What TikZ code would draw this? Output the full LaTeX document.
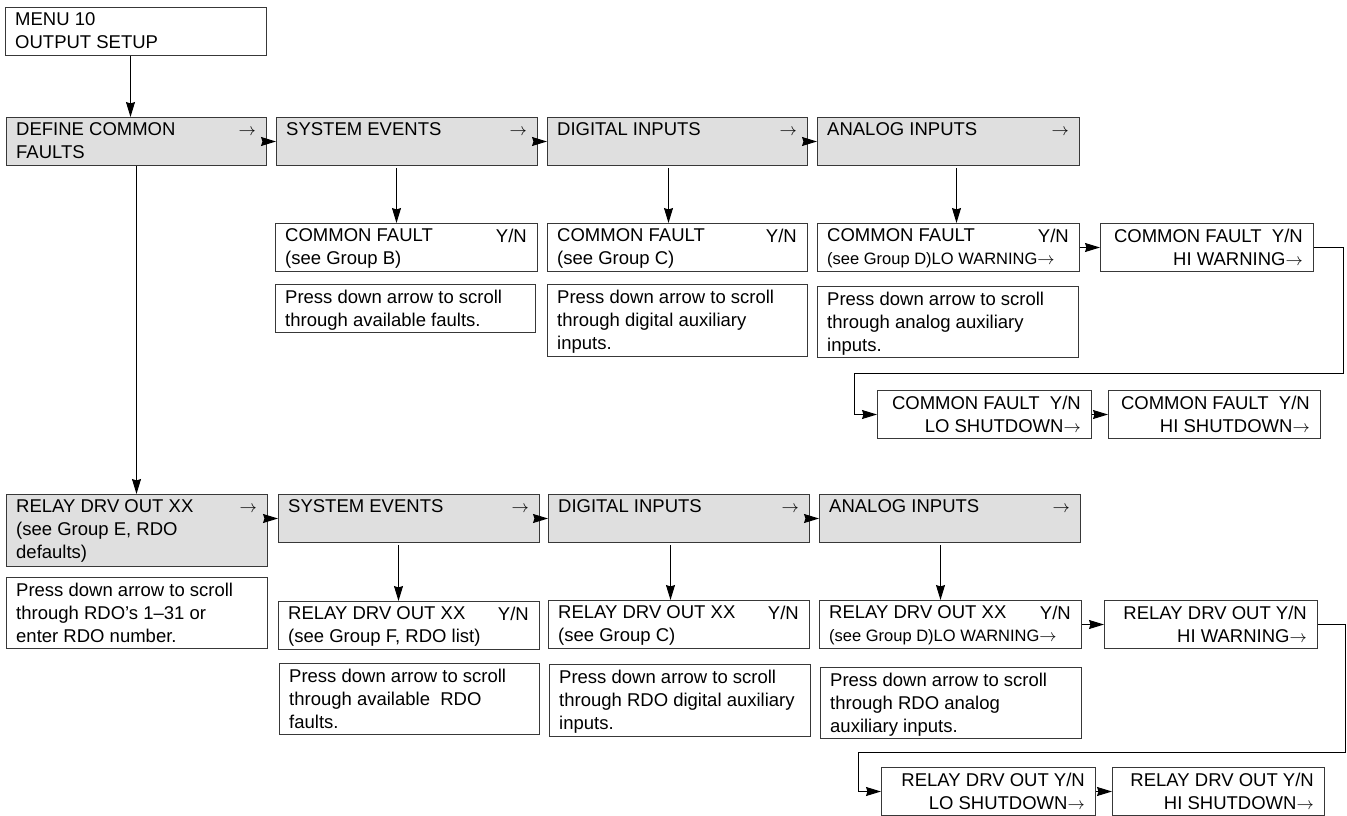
\documentclass[tikz,border=0pt]{standalone}
\usepackage{fontspec}
\setmainfont{Liberation Sans}
\usetikzlibrary{arrows.meta,positioning,calc}
\definecolor{panelgray}{HTML}{DFDFDF}
\definecolor{edgegray}{HTML}{383838}
\newcommand{\ra}{\vphantom{A}$\rightarrow$}
\newcommand{\smallline}{\fontsize{16.5}{23}\selectfont}

\begin{document}
\begin{tikzpicture}[x=1pt,y=-1pt,font=\fontsize{18.5}{23}\selectfont,
  screen/.style={draw=edgegray,line width=1pt,anchor=north west,inner sep=0pt,minimum height=48pt},
  shaded/.style={screen,fill=panelgray},
  txt/.style={anchor=north west,inner xsep=10pt,inner ysep=5.5pt,align=left},
  rtxt/.style={anchor=north east,inner xsep=11pt,inner ysep=5.5pt,align=right},
  conn/.style={line width=1pt,-{Stealth[length=15pt,width=9pt,inset=1.5pt]}}]
  \useasboundingbox (0,0) rectangle (1347,816);

  % common faults
  \node[screen,minimum width=261pt,label={[txt]north west:{MENU 10\\OUTPUT SETUP}}] (menu) at (5,7) {};
  \node[shaded,minimum width=260pt,label={[txt]north west:{DEFINE COMMON\\FAULTS}},label={[rtxt]north east:\ra}] (define) at (6,117) {};
  \node[shaded,minimum width=261pt,label={[txt]north west:SYSTEM EVENTS},label={[rtxt]north east:\ra}] (sysev) at (276,117) {};
  \node[shaded,minimum width=260pt,label={[txt]north west:DIGITAL INPUTS},label={[rtxt]north east:\ra}] (digin) at (547,117) {};
  \node[shaded,minimum width=262pt,label={[txt]north west:ANALOG INPUTS},label={[rtxt]north east:\ra}] (anain) at (817,117) {};

  \node[screen,minimum width=262pt,label={[txt]north west:{COMMON FAULT\\(see Group B)}},label={[rtxt]north east:Y/N}] (cfb) at (275,223) {};
  \node[screen,minimum width=260pt,label={[txt]north west:{Press down arrow to scroll\\through available faults.}}] (pressb) at (275,284) {};
  \node[screen,minimum width=260pt,label={[txt]north west:{COMMON FAULT\\(see Group C)}},label={[rtxt]north east:Y/N}] (cfc) at (547,223) {};
  \node[screen,minimum width=260pt,minimum height=72pt,label={[txt]north west:{Press down arrow to scroll\\through digital auxiliary\\inputs.}}] (pressc) at (547,284) {};
  \node[screen,minimum width=262pt,label={[txt]north west:{COMMON FAULT\\{\smallline (see Group D)LO WARNING\ra}}},label={[rtxt]north east:Y/N}] (cfd) at (817,223) {};
  \node[screen,minimum width=261pt,minimum height=71pt,label={[txt]north west:{Press down arrow to scroll\\through analog auxiliary\\inputs.}}] (pressd) at (817,286) {};
  \node[screen,minimum width=213pt,label={[rtxt]north east:{COMMON FAULT\ \ Y/N\\HI WARNING\ra}}] (cfhw) at (1100,223) {};
  \node[screen,minimum width=214pt,label={[rtxt]north east:{COMMON FAULT\ \ Y/N\\LO SHUTDOWN\ra}}] (cfls) at (877,390) {};
  \node[screen,minimum width=212pt,label={[rtxt]north east:{COMMON FAULT\ \ Y/N\\HI SHUTDOWN\ra}}] (cfhs) at (1108,390) {};

  % relay driver outputs
  \node[shaded,minimum width=261pt,minimum height=72pt,label={[txt]north west:{RELAY DRV OUT XX\\(see Group E, RDO\\defaults)}},label={[rtxt]north east:\ra}] (relay) at (6,494) {};
  \node[screen,minimum width=261pt,minimum height=71pt,label={[txt]north west:{Press down arrow to scroll\\through RDO’s 1--31 or\\enter RDO number.}}] (rpress) at (6,577) {};
  \node[shaded,minimum width=261pt,label={[txt]north west:SYSTEM EVENTS},label={[rtxt]north east:\ra}] (rsysev) at (278,494) {};
  \node[shaded,minimum width=261pt,label={[txt]north west:DIGITAL INPUTS},label={[rtxt]north east:\ra}] (rdigin) at (548,494) {};
  \node[shaded,minimum width=261pt,label={[txt]north west:ANALOG INPUTS},label={[rtxt]north east:\ra}] (ranain) at (819,494) {};

  \node[screen,minimum width=261pt,label={[txt]north west:{RELAY DRV OUT XX\\(see Group F, RDO list)}},label={[rtxt]north east:Y/N}] (rdob) at (278,601) {};
  \node[screen,minimum width=260pt,minimum height=71pt,label={[txt]north west:{Press down arrow to scroll\\through available\ \ RDO\\faults.}}] (rpressb) at (279,663) {};
  \node[screen,minimum width=261pt,label={[txt]north west:{RELAY DRV OUT XX\\(see Group C)}},label={[rtxt]north east:Y/N}] (rdoc) at (548,600) {};
  \node[screen,minimum width=261pt,minimum height=72pt,label={[txt]north west:{Press down arrow to scroll\\through RDO digital auxiliary\\inputs.}}] (rpressc) at (549,664) {};
  \node[screen,minimum width=262pt,label={[txt]north west:{RELAY DRV OUT XX\\{\smallline (see Group D)LO WARNING\ra}}},label={[rtxt]north east:Y/N}] (rdod) at (819,600) {};
  \node[screen,minimum width=261pt,minimum height=71pt,label={[txt]north west:{Press down arrow to scroll\\through RDO analog\\auxiliary inputs.}}] (rpressd) at (820,667) {};
  \node[screen,minimum width=213pt,label={[rtxt]north east:{RELAY DRV OUT Y/N\\HI WARNING\ra}}] (rdohw) at (1104,600) {};
  \node[screen,minimum width=214pt,label={[rtxt]north east:{RELAY DRV OUT Y/N\\LO SHUTDOWN\ra}}] (rdols) at (881,767) {};
  \node[screen,minimum width=212pt,label={[rtxt]north east:{RELAY DRV OUT Y/N\\HI SHUTDOWN\ra}}] (rdohs) at (1112,767) {};

  % connectors
  \draw[conn] ([xshift=-5.5pt]menu.south) -- ([xshift=-5.5pt]menu.south |- define.north);
  \draw[conn] (define.south) -- (define.south |- relay.north);
  \foreach \a/\b in {define/sysev,sysev/digin,digin/anain,cfd/cfhw,cfls/cfhs,
                     relay/rsysev,rsysev/rdigin,rdigin/ranain,rdod/rdohw,rdols/rdohs}
    \draw[conn] (\b.west -| \a.east) -- (\b.west);
  \foreach \a/\b/\s in {sysev/cfb/-10.5,digin/cfc/-9,anain/cfd/8,
                        rsysev/rdob/-10.5,rdigin/rdoc/-8.5,ranain/rdod/-9.5}
    \draw[conn,shorten <=2pt] ([xshift=\s pt]\a.south) -- ([xshift=\s pt]\a.south |- \b.north);

  \coordinate (tturnr) at (1343,373);
  \coordinate (tturnl) at (854,373);
  \draw[conn] (cfhw.east) -| (tturnr) -- (tturnl) |- (cfls.west);
  \coordinate (bturnr) at (1345,752);
  \coordinate (bturnl) at (858,752);
  \draw[conn] (rdohw.east) -| (bturnr) -- (bturnl) |- (rdols.west);
\end{tikzpicture}
\end{document}
